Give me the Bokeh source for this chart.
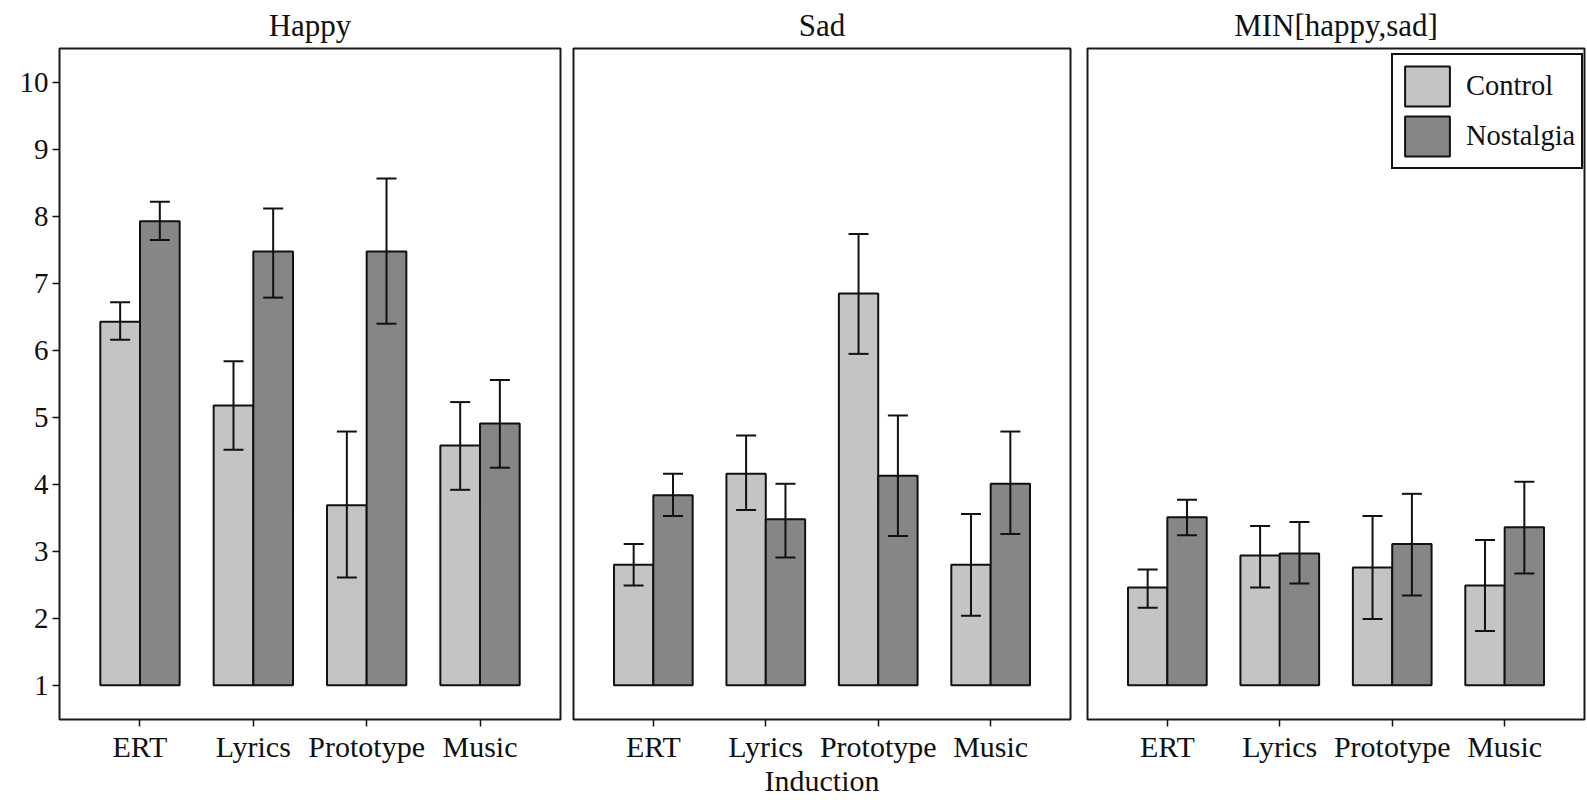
from bokeh.plotting import figure
from bokeh.layouts import row
from bokeh.models import (ColumnDataSource, Range1d, FixedTicker, Whisker, TeeHead,
                          Legend, LegendItem)
from bokeh.transform import dodge
from bokeh.embed import file_html
from bokeh.resources import INLINE

categories = ["ERT", "Lyrics", "Prototype", "Music"]
panels = ["Happy", "Sad", "MIN[happy,sad]"]
groups = ["Control", "Nostalgia"]
y_ticks = [1, 2, 3, 4, 5, 6, 7, 8, 9, 10]

happy_control = [6.43, 5.18, 3.69, 4.58]
happy_control_lo = [6.16, 4.52, 2.61, 3.92]
happy_control_hi = [6.72, 5.84, 4.79, 5.23]
happy_nostalgia = [7.93, 7.48, 7.48, 4.91]
happy_nostalgia_lo = [7.65, 6.79, 6.40, 4.25]
happy_nostalgia_hi = [8.22, 8.12, 8.57, 5.56]

sad_control = [2.80, 4.16, 6.85, 2.80]
sad_control_lo = [2.49, 3.62, 5.95, 2.04]
sad_control_hi = [3.11, 4.73, 7.74, 3.56]
sad_nostalgia = [3.84, 3.48, 4.13, 4.01]
sad_nostalgia_lo = [3.53, 2.91, 3.23, 3.26]
sad_nostalgia_hi = [4.16, 4.01, 5.03, 4.79]

min_control = [2.46, 2.94, 2.76, 2.49]
min_control_lo = [2.16, 2.46, 1.99, 1.81]
min_control_hi = [2.73, 3.38, 3.53, 3.17]
min_nostalgia = [3.51, 2.97, 3.11, 3.36]
min_nostalgia_lo = [3.24, 2.52, 2.34, 2.67]
min_nostalgia_hi = [3.77, 3.44, 3.86, 4.04]

panel_data = [
    (happy_control, happy_control_lo, happy_control_hi,
     happy_nostalgia, happy_nostalgia_lo, happy_nostalgia_hi),
    (sad_control, sad_control_lo, sad_control_hi,
     sad_nostalgia, sad_nostalgia_lo, sad_nostalgia_hi),
    (min_control, min_control_lo, min_control_hi,
     min_nostalgia, min_nostalgia_lo, min_nostalgia_hi),
]

FONT = "Liberation Serif"
INK = "#111111"
COL_C = "#c4c4c4"
COL_N = "#868686"
BAR_W = 0.35

xs = list(range(1, len(categories) + 1))
label_map = {i + 1: c for i, c in enumerate(categories)}

# layout: (min_border_left, frame_width, min_border_right)
geo = [(59, 501, 6), (7, 497, 8), (9, 497, 2)]
FRAME_H = 671

figs = []
for k, (title, data, (bl, fw, br)) in enumerate(zip(panels, panel_data, geo)):
    c, clo, chi, n, nlo, nhi = data
    p = figure(frame_width=fw, frame_height=FRAME_H,
               x_range=Range1d(0.29, 4.71), y_range=Range1d(0.49, 10.51),
               output_backend="svg", toolbar_location=None,
               y_axis_location="left" if k == 0 else None,
               min_border_left=bl, min_border_right=br,
               min_border_top=47, min_border_bottom=80)
    p.title.text = title
    p.title.align = "center"
    p.title.text_font = FONT
    p.title.text_font_size = "31px"
    p.title.text_font_style = "normal"
    p.title.text_color = INK
    p.title.standoff = 11

    p.xgrid.visible = False
    p.ygrid.visible = False
    p.outline_line_color = "#1a1a1a"
    p.outline_line_width = 2
    p.outline_line_alpha = 1
    p.background_fill_color = "white"
    p.border_fill_color = "white"

    src = ColumnDataSource(dict(x=xs, c=c, clo=clo, chi=chi, n=n, nlo=nlo, nhi=nhi))
    rc = p.vbar(x=dodge("x", -BAR_W / 2), top="c", bottom=1, width=BAR_W, source=src,
                fill_color=COL_C, line_color=INK, line_width=2)
    rn = p.vbar(x=dodge("x", BAR_W / 2), top="n", bottom=1, width=BAR_W, source=src,
                fill_color=COL_N, line_color=INK, line_width=2)
    for off, lo, hi in ((-BAR_W / 2, "clo", "chi"), (BAR_W / 2, "nlo", "nhi")):
        w = Whisker(base=dodge("x", off), lower=lo, upper=hi, source=src,
                    line_color=INK, line_width=2, level="annotation",
                    upper_head=TeeHead(size=20, line_color=INK, line_width=2),
                    lower_head=TeeHead(size=20, line_color=INK, line_width=2))
        p.add_layout(w)

    xa = p.xaxis[0]
    xa.ticker = FixedTicker(ticks=xs)
    xa.major_label_overrides = label_map
    xa.minor_tick_line_color = None
    xa.major_tick_out = 7
    xa.major_tick_in = 0
    xa.major_tick_line_color = INK
    xa.major_tick_line_width = 1.5
    xa.axis_line_color = None
    xa.major_label_standoff = 3
    xa.major_label_text_font = FONT
    xa.major_label_text_font_size = "30px"
    xa.major_label_text_color = INK
    if k == 1:
        xa.axis_label = "Induction"
        xa.axis_label_text_font = FONT
        xa.axis_label_text_font_size = "30px"
        xa.axis_label_text_font_style = "normal"
        xa.axis_label_text_color = INK
        xa.axis_label_standoff = -2

    if k == 0:
        ya = p.yaxis[0]
        ya.ticker = FixedTicker(ticks=y_ticks)
        ya.minor_tick_line_color = None
        ya.major_tick_out = 7
        ya.major_tick_in = 0
        ya.major_tick_line_color = INK
        ya.major_tick_line_width = 1.5
        ya.axis_line_color = None
        ya.major_label_standoff = 4
        ya.major_label_text_font = FONT
        ya.major_label_text_font_size = "29px"
        ya.major_label_text_color = INK

    if k == 2:
        legend = Legend(items=[LegendItem(label=groups[0], renderers=[rc]),
                               LegendItem(label=groups[1], renderers=[rn])],
                        location=(304, 550))
        legend.border_line_color = INK
        legend.border_line_width = 2
        legend.border_line_alpha = 1
        legend.background_fill_color = "white"
        legend.background_fill_alpha = 1
        legend.label_text_font = FONT
        legend.label_text_font_size = "28.5px"
        legend.label_text_color = INK
        legend.glyph_width = 56
        legend.glyph_height = 50
        legend.label_height = 50
        legend.spacing = 0
        legend.padding = 6
        legend.label_standoff = 11
        p.add_layout(legend)

    figs.append(p)

layout = row(*figs, spacing=0)
open("out.html", "w").write(file_html(layout, INLINE))
